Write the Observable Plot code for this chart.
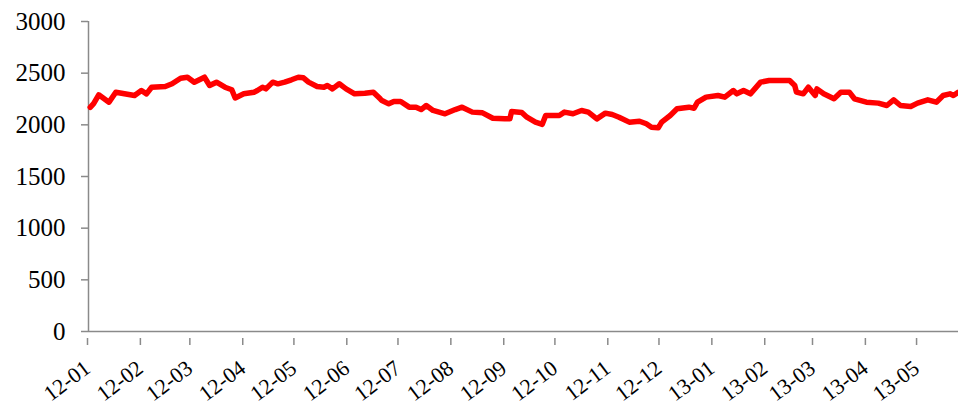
<!DOCTYPE html>
<html>
<head>
<meta charset="utf-8">
<script src="https://cdn.jsdelivr.net/npm/d3@7"></script>
<script src="https://cdn.jsdelivr.net/npm/@observablehq/plot@0.6"></script>
<style>
  html, body { margin: 0; padding: 0; background: #ffffff; }
  #chart { width: 958px; height: 408px; overflow: hidden; }
</style>
</head>
<body>
<div id="chart"></div>
<script>
const dates = [
  "2012-01-02","2012-01-04","2012-01-07","2012-01-10","2012-01-13","2012-01-17","2012-01-28",
  "2012-02-01","2012-02-04","2012-02-07","2012-02-15","2012-02-19","2012-02-24","2012-02-28",
  "2012-03-03","2012-03-09","2012-03-12","2012-03-16","2012-03-21","2012-03-25","2012-03-27",
  "2012-04-01","2012-04-07","2012-04-09","2012-04-12","2012-04-14","2012-04-18","2012-04-21","2012-04-25","2012-04-29",
  "2012-05-03","2012-05-06","2012-05-09","2012-05-14","2012-05-18","2012-05-20","2012-05-23","2012-05-27","2012-05-31",
  "2012-06-05","2012-06-11","2012-06-16","2012-06-18","2012-06-20","2012-06-21","2012-06-25","2012-06-28",
  "2012-07-02","2012-07-07","2012-07-11","2012-07-14","2012-07-17","2012-07-21","2012-07-28",
  "2012-08-03","2012-08-07","2012-08-13","2012-08-19","2012-08-25",
  "2012-09-01","2012-09-04","2012-09-05","2012-09-11","2012-09-14","2012-09-19","2012-09-23","2012-09-25",
  "2012-10-03","2012-10-06","2012-10-11","2012-10-16","2012-10-20","2012-10-25","2012-10-30",
  "2012-11-03","2012-11-07","2012-11-13","2012-11-19","2012-11-23","2012-11-26","2012-11-30",
  "2012-12-02","2012-12-07","2012-12-11","2012-12-18","2012-12-21","2012-12-23","2012-12-28",
  "2013-01-04","2013-01-08","2013-01-13","2013-01-15","2013-01-19","2013-01-23","2013-01-29",
  "2013-02-03","2013-02-15","2013-02-18","2013-02-19","2013-02-23","2013-02-26",
  "2013-03-02","2013-03-03","2013-03-07","2013-03-13","2013-03-17","2013-03-22","2013-03-25",
  "2013-04-01","2013-04-08","2013-04-13","2013-04-17","2013-04-21","2013-04-27",
  "2013-05-01","2013-05-07","2013-05-12","2013-05-16","2013-05-20","2013-05-22","2013-05-25"
];
const values = [
  2170,2206,2290,2255,2219,2316,2284,
  2332,2300,2364,2371,2397,2451,2461,
  2412,2461,2381,2413,2364,2339,2260,
  2300,2316,2332,2364,2348,2413,2397,2413,2436,
  2461,2455,2413,2371,2364,2381,2348,2397,2348,
  2300,2306,2316,2284,2252,2235,2203,2226,
  2226,2171,2171,2148,2187,2139,2107,
  2148,2171,2123,2116,2064,
  2058,2058,2129,2120,2074,2026,2005,2090,
  2090,2123,2107,2139,2123,2058,2113,
  2100,2074,2026,2035,2010,1977,1971,
  2026,2090,2155,2171,2161,2219,2268,
  2284,2268,2332,2300,2332,2300,2413,
  2429,2429,2381,2316,2300,2364,
  2284,2348,2300,2252,2316,2316,2252,
  2219,2210,2187,2242,2187,2177,
  2210,2242,2219,2284,2300,2284,2316
];
const yTicks = [0, 500, 1000, 1500, 2000, 2500, 3000];
const xTickDates = [
  "2012-01-01","2012-02-01","2012-03-01","2012-04-01","2012-05-01","2012-06-01",
  "2012-07-01","2012-08-01","2012-09-01","2012-10-01","2012-11-01","2012-12-01",
  "2013-01-01","2013-02-01","2013-03-01","2013-04-01","2013-05-01"
];
const xTickLabels = [
  "12-01","12-02","12-03","12-04","12-05","12-06","12-07","12-08","12-09",
  "12-10","12-11","12-12","13-01","13-02","13-03","13-04","13-05"
];
const xDomain = ["2012-01-01", "2013-05-25"];
const yDomain = [0, 3000];

const parse = d3.utcParse("%Y-%m-%d");
const data = dates.map((d, i) => ({date: parse(d), value: values[i]}));
const tickDates = xTickDates.map(parse);
const labelOf = new Map(tickDates.map((d, i) => [+d, xTickLabels[i]]));

const axisGray = "#8a8a8a";

const chart = Plot.plot({
  width: 958,
  height: 408,
  marginTop: 21,
  marginBottom: 77,
  marginLeft: 88,
  marginRight: 0,
  style: {
    fontFamily: "'Liberation Serif', 'Times New Roman', serif",
    fontSize: "25px",
    color: "#000",
    background: "transparent",
    overflow: "hidden"
  },
  x: {type: "utc", domain: xDomain.map(parse)},
  y: {domain: yDomain},
  marks: [
    Plot.ruleY([yDomain[0]], {stroke: axisGray, strokeWidth: 1.5}),
    Plot.ruleX([parse(xDomain[0])], {stroke: axisGray, strokeWidth: 1.5}),
    Plot.axisY({
      ticks: yTicks,
      tickSize: 7,
      tickPadding: 16,
      stroke: axisGray,
      strokeWidth: 1.5,
      fill: "#000",
      label: null,
      tickFormat: d => String(d)
    }),
    Plot.axisX({
      ticks: tickDates,
      tickSize: 7,
      tickPadding: 20,
      tickRotate: -37,
      fontSize: 22,
      dx: -1,
      dy: 7,
      stroke: axisGray,
      strokeWidth: 1.5,
      fill: "#000",
      label: null,
      tickFormat: d => labelOf.get(+d)
    }),
    Plot.line(data, {
      x: "date",
      y: "value",
      stroke: "#ff0000",
      strokeWidth: 5.5,
      strokeLinejoin: "round",
      strokeLinecap: "round"
    })
  ]
});
document.getElementById("chart").appendChild(chart);
</script>
</body>
</html>
